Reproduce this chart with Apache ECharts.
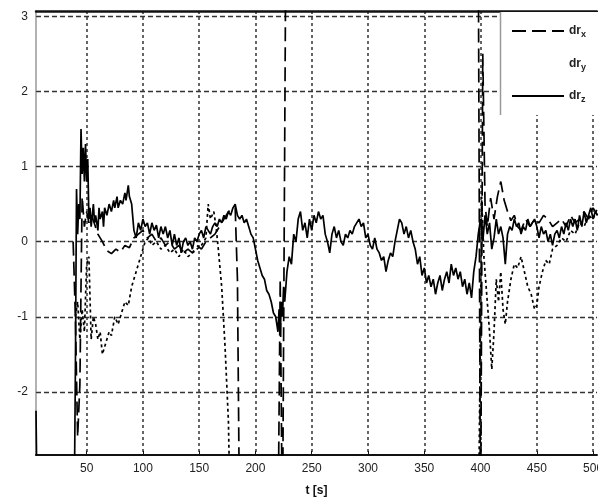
<!DOCTYPE html>
<html>
<head>
<meta charset="utf-8">
<script src="https://cdn.jsdelivr.net/npm/echarts@6/dist/echarts.min.js"></script>
<style>html,body{margin:0;padding:0;background:#fff}#c{width:598px;height:503px}</style>
</head>
<body>
<div id="c"></div>
<script>
// ---- data ----
const xTicks = [50, 100, 150, 200, 250, 300, 350, 400, 450, 500];
const yTicks = [-2, -1, 0, 1, 2, 3];
const seriesNames = ['dr_x', 'dr_y', 'dr_z'];

const tX = [38,40,42,44,45,46,48,50,52,54,56,60,64,68,72,76,80,84,88,92,96,100,104,108,112,116,120,124,128,132,136,140,144,148,152,156,160,164,168,172,176,180,182,184,186,220,222,224,227,398,400,402,404,406,409,412,415,418,421,424,427,430,433,436,440,444,448,452,456,460,464,468,472,476,480,484,488,492,496,500,504];
const vX = [0.0,-1.0,-2.6,-1.9,-0.6,0.6,0.2,0.4,0.25,0.35,0.28,0.1,0.0,-0.12,-0.16,-0.1,-0.14,-0.05,-0.08,0.05,0.1,0.15,0.05,0.1,0.0,0.05,-0.05,0.0,-0.1,-0.05,-0.15,-0.1,-0.15,-0.05,-0.1,0.0,0.05,0.1,0.2,0.3,0.4,0.45,0.45,-0.5,-4,-4,-0.5,-4,4,4,-4,2.5,0.5,0.2,0.58,0.3,0.6,0.8,0.55,0.4,0.28,0.35,0.2,0.15,0.3,0.2,0.3,0.25,0.35,0.3,0.2,0.25,0.3,0.2,0.35,0.25,0.3,0.4,0.3,0.45,0.35];

const tY = [40,42,44,46,48,50,52,54,56,58,60,62,64,66,68,70,72,75,78,81,84,87,90,93,96,99,102,105,108,112,116,120,124,128,132,136,140,144,148,152,156,158,160,163,165,167,170,173,176,178,398,400,401,403,405,408,410,412,414,416,418,420,422,424,427,430,433,436,439,442,445,448,450,452,455,458,461,464,468,472,476,480,484,488,492,496,500,504];
const vY = [-1.0,-0.8,-1.3,-0.9,-1.2,-0.3,-0.2,-1.3,-1.0,-1.1,-1.3,-1.2,-1.5,-1.4,-1.3,-1.2,-1.25,-1.0,-1.1,-0.95,-0.8,-0.85,-0.6,-0.45,-0.3,-0.15,0.0,0.05,-0.05,0.0,-0.1,-0.05,-0.15,-0.1,-0.2,-0.1,-0.2,-0.15,-0.1,-0.05,0.05,0.5,0.3,0.4,0.2,-0.1,-0.6,-1.4,-2.4,-4,-4,-1.0,0.6,-0.2,-0.6,-1.2,-1.7,-1.2,-0.5,-0.8,-0.4,-0.9,-1.1,-0.8,-0.5,-0.3,-0.35,-0.2,-0.4,-0.6,-0.7,-0.9,-0.85,-0.6,-0.4,-0.25,-0.3,-0.1,-0.05,0.05,0.0,0.15,0.1,0.25,0.2,0.35,0.3,0.45];

const tZ = [5,6,39,40,41,42,43,44,45,46,47,48,49,50,51,52,53,54,56,57,58,60,61,62,64,65,66,68,70,72,74,75,77,78,80,82,84,85,87,88,90,92,94,96,98,100,102,104,106,108,110,112,114,116,118,120,122,124,126,128,130,132,134,136,138,140,142,144,146,148,150,152,154,156,158,160,162,164,166,168,170,172,174,176,178,180,182,184,186,188,190,192,194,196,198,200,202,204,206,208,210,212,214,216,218,220,221,222,223,224,225,226,228,230,232,234,236,238,240,242,244,246,248,250,252,254,256,258,260,262,264,266,268,270,272,274,276,278,280,282,284,286,288,290,292,294,296,298,300,302,304,306,308,310,312,314,316,318,320,322,324,326,328,330,332,334,336,338,340,342,344,346,348,350,352,354,356,358,360,362,364,366,368,370,372,374,376,378,380,382,384,386,388,390,392,394,396,398,400,402,404,406,408,410,412,414,416,418,420,422,424,426,428,430,432,434,436,438,440,442,444,446,448,450,452,454,456,458,460,462,464,466,468,470,472,474,476,478,480,482,484,486,488,490,492,494,496,498,500,502,504];
const vZ = [-2.25,-3.5,-3.5,-1.7,0.7,0.1,0.5,0.3,1.5,0.9,1.25,0.8,1.3,0.8,1.1,0.3,0.45,0.2,0.5,0.25,0.35,0.15,0.45,0.3,0.4,0.2,0.45,0.35,0.5,0.4,0.55,0.45,0.6,0.45,0.55,0.5,0.65,0.55,0.75,0.6,0.5,0.15,0.05,0.25,0.15,0.3,0.2,0.25,0.1,0.25,0.15,0.22,0.05,0.2,0.1,0.2,0.05,0.15,-0.05,0.1,-0.05,0.05,-0.15,0.0,0.05,-0.05,0.0,-0.1,0.05,0.0,0.1,0.15,0.05,0.2,0.15,0.1,0.2,0.25,0.2,0.3,0.25,0.35,0.3,0.4,0.35,0.45,0.5,0.35,0.3,0.35,0.25,0.3,0.2,0.1,0.05,-0.1,-0.25,-0.35,-0.45,-0.5,-0.65,-0.7,-0.8,-0.95,-1.0,-1.2,-0.9,-1.25,-0.8,-1.0,-0.6,-0.8,-0.4,-0.2,-0.3,0.1,0.0,0.3,0.4,0.15,0.25,0.05,0.3,0.15,0.35,0.25,0.4,0.3,0.35,0.1,0.0,-0.15,0.1,0.2,0.05,0.15,0.0,-0.05,0.1,0.05,0.15,0.1,0.2,0.25,0.3,0.2,0.25,0.05,0.1,-0.05,-0.1,0.05,-0.1,-0.15,-0.25,-0.2,-0.4,-0.25,-0.15,-0.2,0.0,0.15,0.3,0.25,0.1,0.2,0.05,0.15,0.0,-0.1,-0.3,-0.2,-0.45,-0.35,-0.55,-0.45,-0.6,-0.5,-0.7,-0.55,-0.45,-0.65,-0.5,-0.4,-0.55,-0.3,-0.45,-0.35,-0.5,-0.4,-0.6,-0.5,-0.7,-0.55,-0.75,-0.4,-0.2,0.1,0.3,0.0,0.35,0.1,0.25,-0.1,0.05,0.3,0.1,0.2,0.05,-0.3,0.1,0.2,0.15,0.3,0.2,0.25,0.1,0.2,0.15,0.3,0.2,0.25,0.3,0.2,0.05,0.2,0.1,0.15,0.0,0.1,-0.05,0.1,0.15,0.05,0.2,0.1,0.25,0.15,0.3,0.2,0.3,0.15,0.35,0.2,0.4,0.25,0.35,0.45,0.3,0.4,0.35];

const zip = (t, v) => t.map((x, i) => [x, v[i]]);

const chart = echarts.init(document.getElementById('c'), null, {renderer: 'canvas'});
const axisFont = {fontFamily: 'Liberation Sans, Arial, sans-serif', fontSize: 12, color: '#222'};
const lineStyles = [
  {color: '#000', width: 1.7, type: [14, 6]},
  {color: '#000', width: 1.7, type: [3, 3]},
  {color: '#000', width: 1.7, type: 'solid'}
];
const datas = [zip(tX, vX), zip(tY, vY), zip(tZ, vZ)];

chart.setOption({
  animation: false,
  backgroundColor: '#fff',
  grid: {left: 36, right: 1, top: 11, bottom: 48, containLabel: false, outerBoundsMode: 'none'},
  xAxis: [{
    type: 'value', min: 5, max: 503.5, position: 'bottom',
    axisLine: {show: true, onZero: false, lineStyle: {color: '#111', width: 2}},
    axisTick: {show: true, inside: true, length: 4, customValues: xTicks, lineStyle: {color: '#111'}},
    axisLabel: {show: true, customValues: xTicks, margin: 8, ...axisFont},
    splitLine: {show: true, lineStyle: {color: '#333', width: 1.5, type: [3, 3]}},
    name: 't [s]', nameLocation: 'middle', nameGap: 30,
    nameTextStyle: {fontFamily: 'Liberation Sans, Arial, sans-serif', fontSize: 12, fontWeight: 'bold', color: '#111'}
  }, {
    type: 'value', min: 5, max: 503.5, position: 'top',
    axisLine: {show: true, onZero: false, lineStyle: {color: '#111', width: 2.5}},
    axisTick: {show: false}, axisLabel: {show: false}, splitLine: {show: false}
  }],
  yAxis: {
    type: 'value', min: -2.84, max: 3.07,
    axisLine: {show: true, onZero: false, lineStyle: {color: '#999', width: 1.5}},
    axisTick: {show: true, inside: true, length: 4, customValues: yTicks, lineStyle: {color: '#333'}},
    axisLabel: {show: true, customValues: yTicks, margin: 8, ...axisFont},
    splitLine: {show: true, lineStyle: {color: '#333', width: 1.3, type: [5, 3]}}
  },
  legend: {
    orient: 'vertical', left: 506, top: 20, z: 10,
    itemWidth: 52, itemHeight: 14, itemGap: 18,
    itemStyle: {opacity: 0},
    data: [
      {name: 'dr_x'},
      {name: 'dr_y', lineStyle: {opacity: 0}},
      {name: 'dr_z'}
    ],
    formatter: n => '{a|dr}{s|' + n.slice(3) + '}',
    textStyle: {
      rich: {
        a: {fontFamily: 'Liberation Sans, Arial, sans-serif', fontSize: 12, fontWeight: 'bold', color: '#222'},
        s: {fontFamily: 'Liberation Sans, Arial, sans-serif', fontSize: 9, fontWeight: 'bold', color: '#222', padding: [8, 0, 0, 0]}
      }
    }
  },
  graphic: [
    {type: 'rect', z: 5, shape: {x: 500, y: 12, width: 100, height: 103}, style: {fill: '#fff'}},
    {type: 'line', z: 6, shape: {x1: 500.5, y1: 12, x2: 500.5, y2: 115}, style: {stroke: '#999', lineWidth: 1.5}}
  ],
  series: seriesNames.map((n, i) => ({
    name: n, type: 'line', data: datas[i], showSymbol: false, symbol: 'none',
    clip: true, lineStyle: lineStyles[i], itemStyle: {color: '#000'}, z: 3 - i + 2
  }))
});
</script>
</body>
</html>
